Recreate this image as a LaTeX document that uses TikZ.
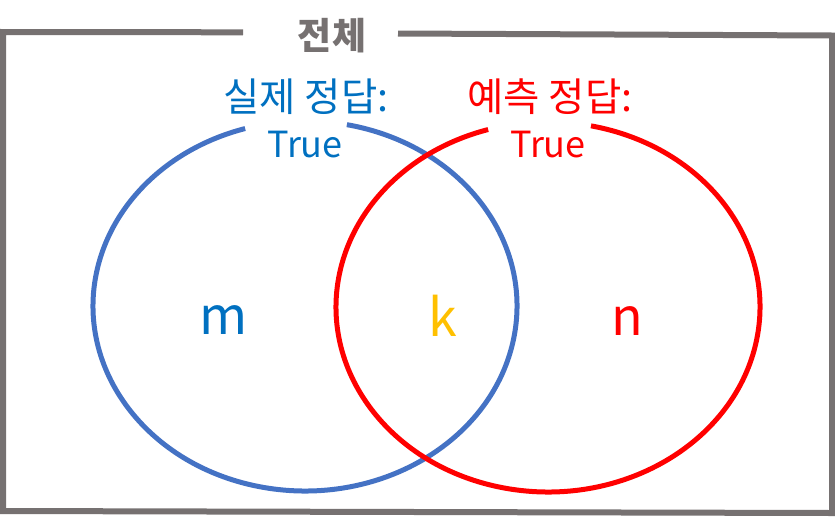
\documentclass[tikz,border=0pt]{standalone}
\usepackage{fontspec}
\setmainfont{Noto Sans CJK KR}
\definecolor{framegray}{HTML}{767171}
\definecolor{ellblue}{HTML}{4472C4}
\definecolor{txtblue}{HTML}{0070C0}
\definecolor{ellred}{HTML}{FF0000}
\definecolor{kgold}{HTML}{FFC000}
\tikzset{
  frameline/.style={draw=framegray, line width=6pt, line join=miter},
  ellline/.style={line width=5pt},
  lbl/.style={inner sep=0pt, anchor=base, font=\fontsize{39.5}{42}\selectfont},
  lbltrue/.style={inner sep=0pt, anchor=base, font=\fontsize{36}{40}\selectfont},
  var/.style={inner sep=0pt, anchor=base, font=\fontsize{52}{56}\selectfont},
}
\begin{document}
\begin{tikzpicture}[x=1pt,y=-1pt]
\useasboundingbox (0,0) rectangle (835,517);
% frame
\coordinate (gl) at (243,32.3);
\coordinate (tl) at (3,32);
\coordinate (bl) at (3,511);
\coordinate (br) at (832,513);
\coordinate (tr) at (832,35.5);
\coordinate (gr) at (398,33.5);
\draw[frameline] (gl) -- (tl) -- (bl) -- (br) -- (tr) -- (gr);
\node[inner sep=0pt, anchor=base, text=framegray, font=\fontsize{37}{40}\selectfont\bfseries] (title) at (332,49) {전체};
% ellipses
\coordinate (bc) at (305,306);
\coordinate (rc) at (548,307);
\draw[ellline, draw=ellblue] (bc) ++(-78.6:212 and 185) arc[start angle=-78.6, end angle=253.6, x radius=212, y radius=185];
\draw[ellline, draw=ellred] (rc) ++(-78.3:212 and 185) arc[start angle=-78.3, end angle=253.6, x radius=212, y radius=185];
% labels
\node[lbl, text=txtblue] (bl1) at (306,111) {실제 정답:};
\node[lbltrue, text=txtblue] (bl2) at (305,157) {True};
\node[lbl, text=ellred] (rl1) at (550,111) {예측 정답:};
\node[lbltrue, text=ellred] (rl2) at (548,157) {True};
\node[var, text=txtblue] (m) at (224,334) {m};
\node[var, text=kgold] (k) at (443,336) {k};
\node[var, text=ellred] (n) at (627,335) {n};
\end{tikzpicture}
\end{document}
